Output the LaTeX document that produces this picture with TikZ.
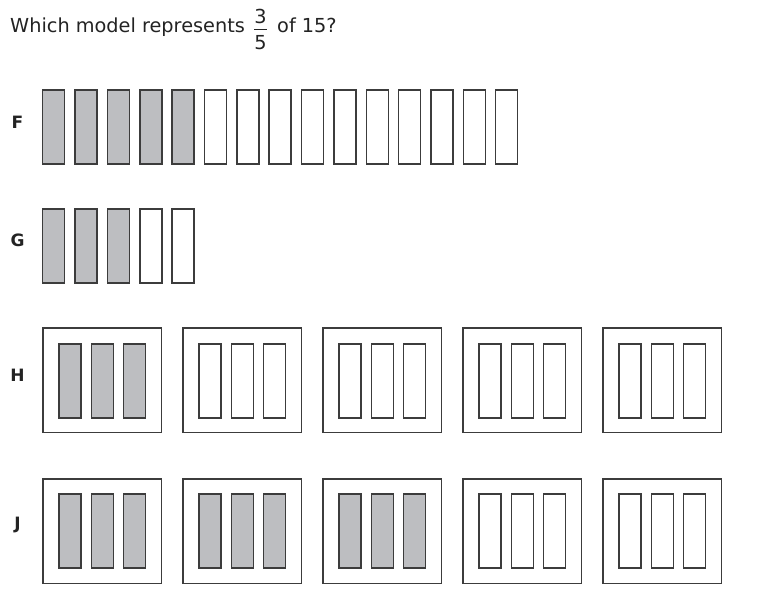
\documentclass[tikz,border=0pt]{standalone}
\usepackage{fontspec}
\setmainfont{DejaVu Sans}
\definecolor{barfill}{RGB}{189,190,193}
\definecolor{ink}{RGB}{60,60,60}
\definecolor{txt}{RGB}{35,35,35}
\begin{document}
\begin{tikzpicture}[x=1pt,y=-1pt,
  bar/.style={draw=ink,line width=1.5pt,rectangle,inner sep=0pt,minimum width=22pt,minimum height=74pt},
  shaded/.style={bar,fill=barfill},
  plain/.style={bar,fill=white},
  frame/.style={draw=ink,line width=1.4pt,rectangle,inner sep=0pt,minimum width=118.5pt,minimum height=104.5pt},
  lab/.style={font=\fontsize{17}{19}\selectfont\bfseries,text=txt,inner sep=0pt},
  ttl/.style={font=\fontsize{19.3}{22}\selectfont,text=txt,inner sep=0pt}]
\useasboundingbox (0,0) rectangle (757,602);
% title
\node[ttl,anchor=base west] (q1) at (10,33) {Which model represents};
\node[ttl,anchor=base] (num) at (260.5,24) {3};
\node[ttl,anchor=base] (den) at (260.5,49.5) {5};
\coordinate (fl) at (254,30);
\coordinate (fr) at (267,30);
\draw[txt,line width=1pt] (fl) -- (fr);
\node[ttl,anchor=base west] (q2) at (277,33) {of 15?};
% labels
\node[lab] (lF) at (17.5,122) {F};
\node[lab] (lG) at (17.5,240.5) {G};
\node[lab] (lH) at (17.5,375) {H};
\node[lab] (lJ) at (17.5,525) {J};
% F
\foreach \i in {0,...,14}{
  \ifnum\i<5
    \node[shaded] (F\i) at ({53.7+32.36*\i},127.2) {};
  \else
    \node[plain] (F\i) at ({53.7+32.36*\i},127.2) {};
  \fi
}
% G
\foreach \i in {0,...,4}{
  \ifnum\i<3
    \node[shaded] (G\i) at ({53.7+32.36*\i},245.8) {};
  \else
    \node[plain] (G\i) at ({53.7+32.36*\i},245.8) {};
  \fi
}
% H
\foreach \k in {0,...,4}{
  \node[frame] (H\k) at ({102.3+140*\k},380.3) {};
  \foreach \j in {-1,0,1}{
    \ifnum\k<1
      \node[shaded] at ({102.3+140*\k+32.3*\j},380.8) {};
    \else
      \node[plain] at ({102.3+140*\k+32.3*\j},380.8) {};
    \fi
  }
}
% J
\foreach \k in {0,...,4}{
  \node[frame] (J\k) at ({102.3+140*\k},531.2) {};
  \foreach \j in {-1,0,1}{
    \ifnum\k<3
      \node[shaded] at ({102.3+140*\k+32.3*\j},531.2) {};
    \else
      \node[plain] at ({102.3+140*\k+32.3*\j},531.2) {};
    \fi
  }
}
\end{tikzpicture}
\end{document}
